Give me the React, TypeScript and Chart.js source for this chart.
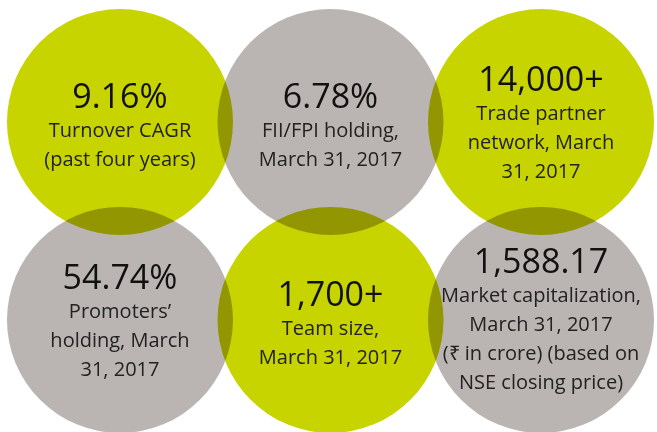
import React, { useEffect, useRef } from "react";
import { Chart, registerables } from "chart.js";

Chart.register(...registerables);

const headlines = ["9.16%", "6.78%", "14,000+", "54.74%", "1,700+", "1,588.17"];
const captions = [
  ["Turnover CAGR", "(past four years)"],
  ["FII/FPI holding,", "March 31, 2017"],
  ["Trade partner", "network, March", "31, 2017"],
  ["Promoters\u2019", "holding, March", "31, 2017"],
  ["Team size,", "March 31, 2017"],
  ["Market capitalization,", "March 31, 2017", "(\u20b9 in crore) (based on", "NSE closing price)"],
];
const columns = [0, 1, 2, 0, 1, 2];
const rows = [0, 0, 0, 1, 1, 1];
const fills = ["#c8d400", "#bab5b2", "#c8d400", "#bab5b2", "#c8d400", "#bab5b2"];

const FONT = "'Open Sans', sans-serif";

const multiplyPlugin = {
  id: "multiply",
  beforeDatasetsDraw(chart: any) {
    chart.ctx.save();
    chart.ctx.globalCompositeOperation = "multiply";
  },
  afterDatasetsDraw(chart: any) {
    chart.ctx.restore();
  },
};

const textPlugin = {
  id: "circleText",
  afterDraw(chart: any) {
    const ctx = chart.ctx;
    const meta = chart.getDatasetMeta(0);
    ctx.save();
    ctx.textAlign = "center";
    ctx.textBaseline = "alphabetic";
    meta.data.forEach((el: any, i: number) => {
      const subs = captions[i];
      const lh = 29;
      const top = el.y - 14 - (subs.length - 2) * 16.5;
      ctx.fillStyle = "#111";
      ctx.font = `34px ${FONT}`;
      ctx.fillText(headlines[i], el.x, top);
      ctx.fillStyle = "#222";
      ctx.font = `20px ${FONT}`;
      subs.forEach((s: string, j: number) => {
        ctx.fillText(s, el.x, top + lh * (j + 1));
      });
    });
    ctx.restore();
  },
};

export default function App() {
  const ref = useRef<HTMLCanvasElement>(null);
  useEffect(() => {
    if (!ref.current) return;
    const chart = new Chart(ref.current, {
      type: "bubble",
      data: {
        datasets: [
          {
            data: headlines.map((_, i) => ({ x: columns[i], y: rows[i], r: 113 })),
            backgroundColor: fills,
            borderWidth: 0,
            hoverRadius: 0,
            clip: false,
          } as any,
        ],
      },
      options: {
        animation: false,
        responsive: true,
        maintainAspectRatio: false,
        events: [],
        layout: { padding: 0, autoPadding: false },
        plugins: { legend: { display: false }, tooltip: { enabled: false } },
        scales: {
          x: { type: "linear", display: false, min: -0.57, max: 2.551 },
          y: { type: "linear", display: false, reverse: true, min: -0.616, max: 1.566 },
        },
      },
      plugins: [multiplyPlugin, textPlugin],
    });
    return () => chart.destroy();
  }, []);
  return (
    <div style={{ position: "fixed", left: 0, top: 0, width: 657, height: 432, background: "#fff" }}>
      <canvas ref={ref} />
    </div>
  );
}
